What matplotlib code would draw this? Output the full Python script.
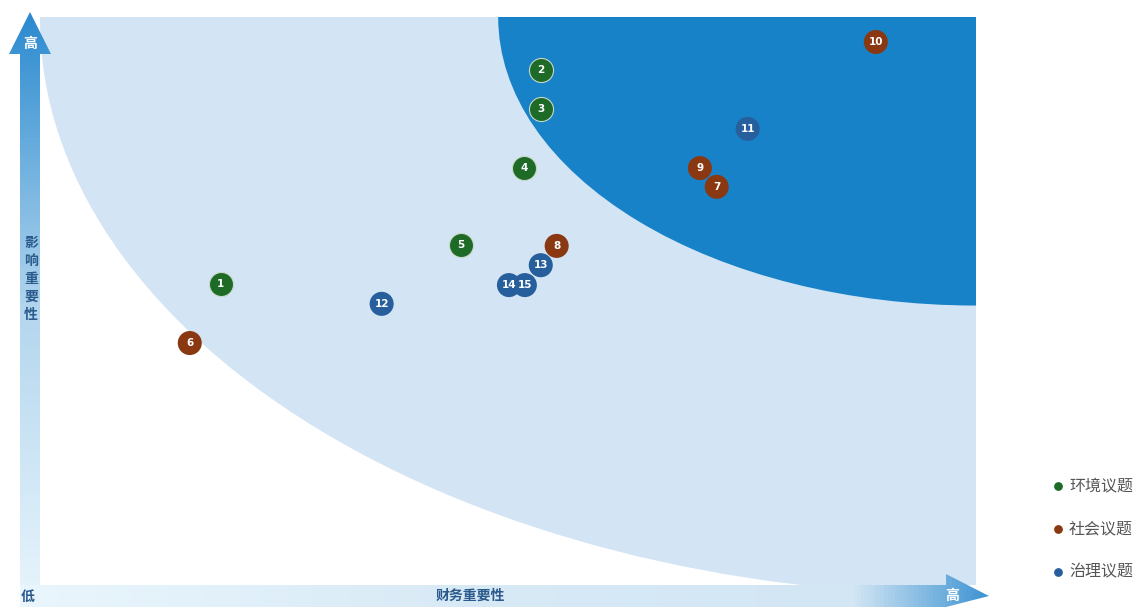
import numpy as np
import matplotlib
matplotlib.use("Agg")
import matplotlib.pyplot as plt
from matplotlib.patches import Ellipse, Polygon
from matplotlib.colors import LinearSegmentedColormap

plt.rcParams['font.family'] = ['Noto Sans CJK SC', 'DejaVu Sans']

# issue data: financial importance (x), impact importance (y), 0-10 scale
ids = [1, 2, 3, 4, 5, 6, 7, 8, 9, 10, 11, 12, 13, 14, 15]
fin = [1.93, 5.35, 5.35, 5.17, 4.50, 1.60, 7.23, 5.52, 7.05, 8.93, 7.56, 3.65, 5.35, 5.01, 5.18]
imp = [5.30, 9.07, 8.38, 7.34, 5.99, 4.26, 7.01, 5.97, 7.34, 9.56, 8.03, 4.95, 5.63, 5.28, 5.28]
group = ['env', 'env', 'env', 'env', 'env', 'soc', 'soc', 'soc', 'soc', 'soc',
         'gov', 'gov', 'gov', 'gov', 'gov']

group_names = {'env': '环境议题', 'soc': '社会议题', 'gov': '治理议题'}
group_colors = {'env': '#1d6b27', 'soc': '#8a3812', 'gov': '#275f9c'}

W, H = 1137, 607
fig = plt.figure(figsize=(W / 100, H / 100), dpi=100)

# main plot area (pixel 40..976 x, 17..585 y)
ax = fig.add_axes([40 / W, (H - 585) / H, 936 / W, 568 / H])
ax.set_xlim(0, 10)
ax.set_ylim(0, 10)
ax.axis('off')
ax.set_zorder(1)

# decoration layer in pixel coords, on top of the plot
deco = fig.add_axes([0, 0, 1, 1])
deco.axis('off')
deco.patch.set_alpha(0)
deco.set_zorder(2)

light = Ellipse((10, 9.95), 20, 20.26, facecolor='#d3e5f5', edgecolor='none', zorder=1)
ax.add_patch(light)
dark = Ellipse((10, 10), 10.21, 10.16, facecolor='#1782c8', edgecolor='none', zorder=2)
ax.add_patch(dark)

for x, y, g, n in zip(fin, imp, group, ids):
    ax.scatter(x, y, s=300, color=group_colors[g], edgecolor='#c8d8c8' if g == 'env' else 'none',
               linewidth=0.8, zorder=5, clip_on=False)
    ax.text(x, y, str(n), color='white', ha='center', va='center',
            fontsize=7.5, fontweight='bold', zorder=6, family='DejaVu Sans')

# vertical arrow with gradient
cmap_v = LinearSegmentedColormap.from_list('v', ['#e9f5fc', '#b3d6ee', '#2a8acf'])
grad = np.linspace(1, 0, 256).reshape(-1, 1)
img = deco.imshow(grad, extent=[9, 51, 607, 12], origin='upper', cmap=cmap_v,
                  aspect='auto', zorder=3)
vpoly = Polygon([[20, 607], [20, 54], [9, 54], [30, 12], [51, 54], [40, 54], [40, 607]],
                closed=True, facecolor='none', edgecolor='none')
deco.add_patch(vpoly)
img.set_clip_path(vpoly)

# horizontal arrow with gradient
cmap_h = LinearSegmentedColormap.from_list(
    'h', [(0, '#eaf6fd'), (0.45, '#d8eaf6'), (0.86, '#d3e6f4'), (1, '#3d93d2')])
gradh = np.linspace(0, 1, 256).reshape(1, -1)
imgh = deco.imshow(gradh, extent=[20, 990, 607, 574], cmap=cmap_h, aspect='auto', zorder=3)
hpoly = Polygon([[20, 585], [946, 585], [946, 574], [989, 596], [946, 607], [20, 607]],
                closed=True, facecolor='none', edgecolor='none')
deco.add_patch(hpoly)
imgh.set_clip_path(hpoly)
deco.set_xlim(0, W)
deco.set_ylim(H, 0)

deco.text(30, 44, '高', color='white', fontsize=10, fontweight='bold', ha='center', va='center', zorder=4)
deco.text(952, 596, '高', color='white', fontsize=10, fontweight='bold', ha='center', va='center', zorder=4)
deco.text(28, 597, '低', color='#2b5a8c', fontsize=10, fontweight='bold', ha='center', va='center', zorder=4)
deco.text(470, 596, '财务重要性', color='#2b5a8c', fontsize=10, fontweight='bold', ha='center', va='center', zorder=4)
deco.text(31, 279, '影\n响\n重\n要\n性', color='#2b5a8c', fontsize=10, fontweight='bold',
          ha='center', va='center', linespacing=1.38, zorder=4)

# legend
for i, g in enumerate(['env', 'soc', 'gov']):
    yy = 486 + i * 43
    deco.scatter(1058, yy, s=28, color=group_colors[g], zorder=4)
    deco.text(1069, yy, group_names[g], color='#555555', fontsize=11.5, ha='left', va='center', zorder=4)

fig.savefig('out.png', dpi=100)
